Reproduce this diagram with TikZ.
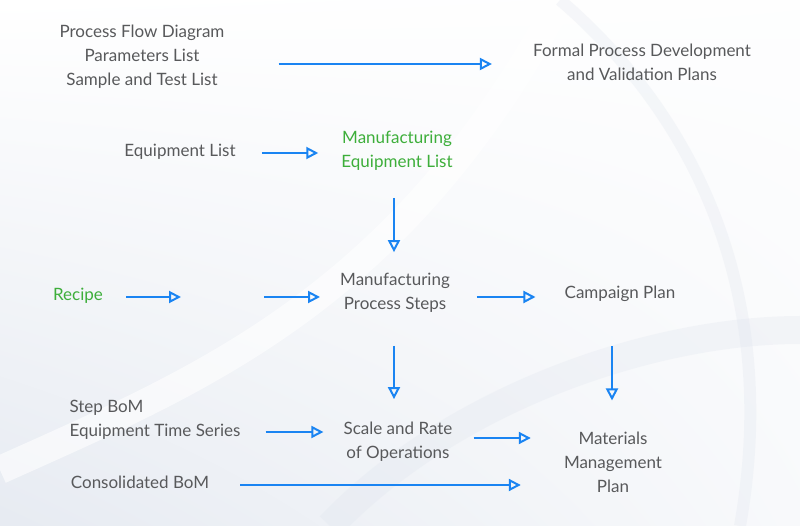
\documentclass[tikz,border=0pt]{standalone}
\usepackage{fontspec}
\setmainfont{Lato}
\usetikzlibrary{arrows.meta,positioning,shadings}
\definecolor{textgrey}{HTML}{58595B}
\definecolor{leafgreen}{HTML}{3DAE3A}
\definecolor{flowblue}{HTML}{1A84F2}
\definecolor{mist}{HTML}{DCE2EC}
\tikzstyle{item}=[
	text=textgrey,
	align=center,
	inner sep=0pt,
	font=\fontsize{17}{24}\selectfont
]
\tikzstyle{output}=[
	item,
	text=leafgreen
]
\tikzstyle{flow}=[
	-{Triangle[open,length=12pt,width=12pt,line width=2pt]},
	draw=flowblue,
	line width=2pt
]
\tikzstyle{swirl}=[
	line width=28pt,
	draw=mist,
	opacity=0.25
]
\begin{document}
\begin{tikzpicture}[x=1pt,y=-1pt]
% background
\useasboundingbox (0,0) rectangle (800,526);
\clip (0,0) rectangle (800,526);
\shade[upper left=white, upper right=white!96!mist, lower left=mist!70, lower right=white!80!mist] (0,0) rectangle (800,526);
\draw[swirl] (330,526) .. controls (450,400) and (650,330) .. (800,330);
\draw[swirl, draw=white, opacity=0.6] (0,470) .. controls (200,380) and (400,300) .. (560,0);
\draw[swirl, line width=12pt] (560,0) .. controls (700,120) and (780,300) .. (740,526);
% nodes
\node [item] (Sources) at (142,57) {Process Flow Diagram\\Parameters List\\Sample and Test List};
\node [item] (Formal) at (642,62) {Formal Process Development\\and Validation Plans};
\node [item] (EquipList) at (180,152) {Equipment List};
\node [output] (MfgEquip) at (397,151) {Manufacturing\\Equipment List};
\node [output] (Recipe) at (78,296) {Recipe};
\coordinate (RecipeGap) at (222,297);
\node [item] (Steps) at (395,293) {Manufacturing\\Process Steps};
\node [item] (Campaign) at (620,294) {Campaign Plan};
\node [item, align=left] (StepBoM) at (155,420) {Step BoM\\Equipment Time Series};
\node [item] (Scale) at (398,442) {Scale and Rate\\of Operations};
\node [item] (Materials) at (613,462) {Materials\\Management\\Plan};
\node [item] (Consolidated) at (140,482) {Consolidated BoM};
% connectors
\draw[flow, shorten <=54pt, shorten >=41pt] ([yshift=-7pt]Sources.east) -- ([yshift=-2pt]Formal.west);
\draw[flow, shorten <=26pt, shorten >=23pt] ([yshift=-1pt]EquipList.east) -- ([yshift=-2pt]MfgEquip.west);
\draw[flow, shorten <=27pt, shorten >=21pt] ([xshift=-3pt]MfgEquip.south) -- ([xshift=-1pt]Steps.north);
\draw[flow, shorten <=23pt] ([yshift=-1pt]Recipe.east) -- ([xshift=-41pt]RecipeGap);
\draw[flow, shorten >=20pt] ([xshift=42pt]RecipeGap) -- ([yshift=-4pt]Steps.west);
\draw[flow, shorten <=27pt, shorten >=29pt] ([yshift=-4pt]Steps.east) -- ([yshift=-3pt]Campaign.west);
\draw[flow, shorten <=33pt, shorten >=23pt] ([xshift=-1pt]Steps.south) -- ([xshift=-4pt]Scale.north);
\draw[flow, shorten <=44pt, shorten >=31pt] ([xshift=-8pt]Campaign.south) -- ([xshift=-1pt]Materials.north);
\draw[flow, shorten <=25pt, shorten >=20pt] ([yshift=-12pt]StepBoM.east) -- ([yshift=10pt]Scale.west);
\draw[flow, shorten <=21pt, shorten >=33pt] ([yshift=4pt]Scale.east) -- ([yshift=24pt]Materials.west);
\draw[flow, shorten <=31pt, shorten >=43pt] ([yshift=-3pt]Consolidated.east) -- ([yshift=-23pt]Materials.west);
\end{tikzpicture}
\end{document}
